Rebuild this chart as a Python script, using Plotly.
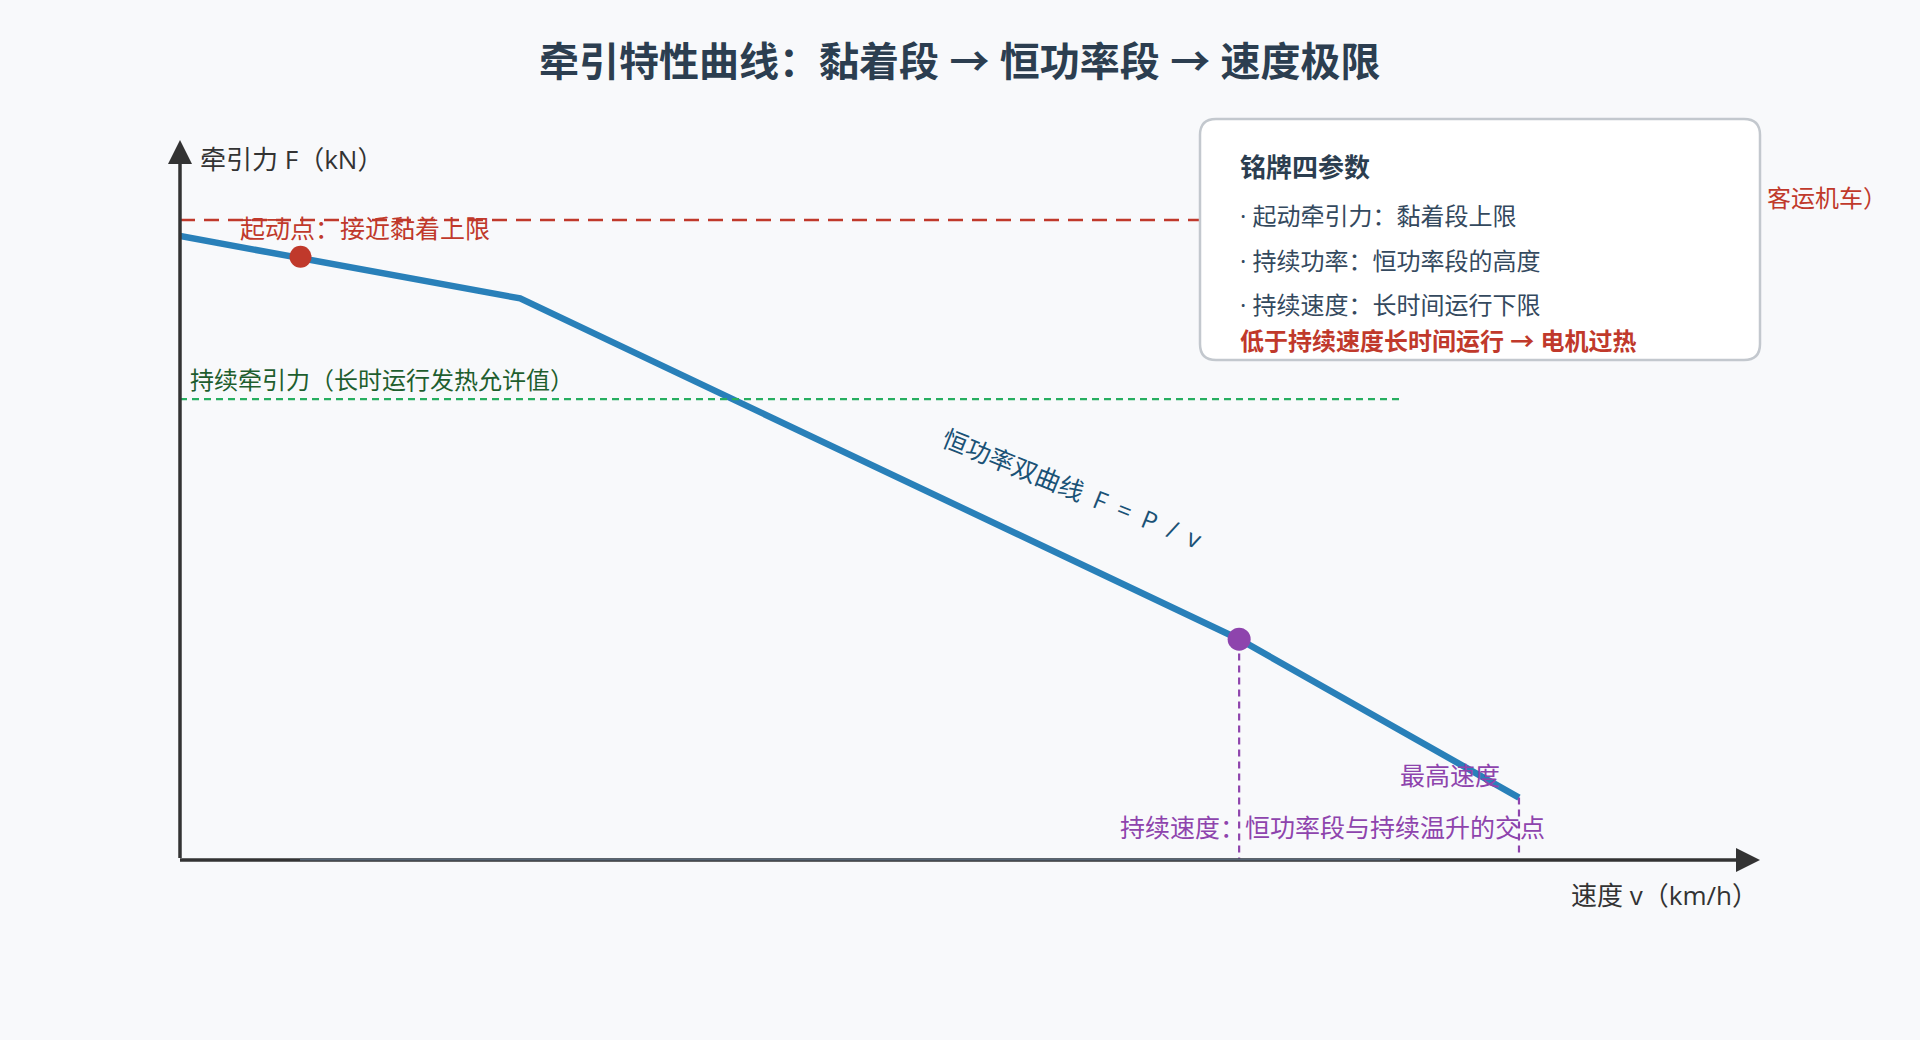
import plotly.graph_objects as go

# ---------------- data ----------------
speed_kmh = [0, 25.4, 79.1, 100]          # curve break points
traction_kN = [390, 351, 138, 39]
start_point_speed = [9]
start_point_force = [377]
continuous_speed = [79.1]
continuous_point_force = [138]
adhesion_limit_kN = 400
continuous_traction_kN = 288
max_speed_kmh = 100
x_range = [0, 118]
y_range = [0, 450]

title_text = "牵引特性曲线：黏着段 → 恒功率段 → 速度极限"
y_label = "牵引力 F（kN）"
x_label = "速度 v（km/h）"
start_label = "起动点：接近黏着上限"
adhesion_label_visible = "客运机车）"
continuous_label = "持续牵引力（长时运行发热允许值）"
hyperbola_label = "恒功率双曲线 F = P / v"
max_speed_label = "最高速度"
continuous_speed_label = "持续速度：恒功率段与持续温升的交点"
box_title = "铭牌四参数"
box_items = ["· 起动牵引力：黏着段上限", "· 持续功率：恒功率段的高度", "· 持续速度：长时间运行下限"]
box_warning = "低于持续速度长时间运行 → 电机过热"

# ---------------- layout geometry ----------------
W, H = 1920, 1040
L, R, T, B = 180, 160, 140, 180
PW, PH = W - L - R, H - T - B
FONT = "Open Sans, Noto Sans CJK SC, sans-serif"
BG = "#f8f9fb"
AXIS = "#333333"
RED = "#c0392b"
GREEN = "#27ae60"
PURPLE = "#8e44ad"
BLUE = "#2980b9"


def px(xp):
    return (xp - L) / PW


def py(yp):
    return (H - B - yp) / PH


fig = go.Figure()

fig.add_trace(go.Scatter(x=speed_kmh, y=traction_kN, mode="lines",
                         line=dict(color=BLUE, width=6.5), hoverinfo="skip", showlegend=False))
fig.add_trace(go.Scatter(x=start_point_speed, y=start_point_force, mode="markers",
                         marker=dict(color=RED, size=22), hoverinfo="skip", showlegend=False))
fig.add_trace(go.Scatter(x=continuous_speed, y=continuous_point_force, mode="markers",
                         marker=dict(color=PURPLE, size=23), hoverinfo="skip", showlegend=False))

shapes = []
# reference lines
shapes.append(dict(type="line", xref="x", yref="y", x0=0, x1=80, y0=adhesion_limit_kN, y1=adhesion_limit_kN,
                   line=dict(color=RED, width=2.5, dash="15px,9px"), layer="above"))
shapes.append(dict(type="line", xref="x", yref="y", x0=0, x1=91.1, y0=continuous_traction_kN,
                   y1=continuous_traction_kN, line=dict(color=GREEN, width=2.2, dash="7px,5px"), layer="above"))
shapes.append(dict(type="line", xref="x", yref="y", x0=continuous_speed[0], x1=continuous_speed[0],
                   y0=continuous_point_force[0] - 9, y1=0, line=dict(color=PURPLE, width=2.2, dash="7px,5px"),
                   layer="above"))
shapes.append(dict(type="line", xref="x", yref="y", x0=max_speed_kmh, x1=max_speed_kmh,
                   y0=traction_kN[-1], y1=4, line=dict(color=PURPLE, width=2.2, dash="7px,5px"),
                   layer="above"))

# info box with rounded corners
bx0, bx1, by0, by1, rr = 1200, 1760, 119, 360, 16
path = (f"M {px(bx0 + rr)} {py(by0)} L {px(bx1 - rr)} {py(by0)} "
        f"Q {px(bx1)} {py(by0)} {px(bx1)} {py(by0 + rr)} L {px(bx1)} {py(by1 - rr)} "
        f"Q {px(bx1)} {py(by1)} {px(bx1 - rr)} {py(by1)} L {px(bx0 + rr)} {py(by1)} "
        f"Q {px(bx0)} {py(by1)} {px(bx0)} {py(by1 - rr)} L {px(bx0)} {py(by0 + rr)} "
        f"Q {px(bx0)} {py(by0)} {px(bx0 + rr)} {py(by0)} Z")
shapes.append(dict(type="path", xref="paper", yref="paper", path=path, fillcolor="white",
                   line=dict(color="#c3c8ce", width=2.5), layer="above"))

# axes with arrows
shapes.append(dict(type="line", xref="paper", yref="paper", x0=px(180), x1=px(180), y0=py(858), y1=py(158),
                   line=dict(color=AXIS, width=3.5), layer="above"))
shapes.append(dict(type="line", xref="paper", yref="paper", x0=px(180), x1=px(1742), y0=py(860), y1=py(860),
                   line=dict(color=AXIS, width=3.5), layer="above"))
shapes.append(dict(type="line", xref="paper", yref="paper", x0=px(300), x1=px(1400), y0=py(859.6), y1=py(859.6),
                   line=dict(color="#566575", width=2), layer="above"))
shapes.append(dict(type="path", xref="paper", yref="paper",
                   path=f"M {px(180)} {py(140)} L {px(168)} {py(164)} L {px(192)} {py(164)} Z",
                   fillcolor=AXIS, line=dict(width=0), layer="above"))
shapes.append(dict(type="path", xref="paper", yref="paper",
                   path=f"M {px(1760)} {py(860)} L {px(1736)} {py(848)} L {px(1736)} {py(872)} Z",
                   fillcolor=AXIS, line=dict(width=0), layer="above"))

annotations = []


def ann(text, xp, yp, size=24, color="#333333", xanchor="left", bold=False, angle=0):
    annotations.append(dict(text=text, xref="paper", yref="paper", x=px(xp), y=py(yp), xanchor=xanchor,
                            yanchor="middle", showarrow=False, textangle=angle,
                            font=dict(family=FONT, size=size, color=color, weight=700 if bold else 400)))


ann(title_text, 960, 61, size=40, color="#2c3e50", xanchor="center", bold=True)
ann(y_label, 198, 159, size=26, color=AXIS)
ann(x_label, 1760, 895, size=26, color=AXIS, xanchor="right")
ann(start_label, 238, 228, size=25, color=RED)
ann(adhesion_label_visible, 1765, 197, color=RED)
ann(continuous_label, 188, 379, color="#1e5e2e")
ann(hyperbola_label.replace(" ", "\u2002"), 1072, 488, size=25, color="#1a5276", xanchor="center", angle=22)
ann(max_speed_label, 1398, 775, size=25, color=PURPLE)
ann(continuous_speed_label, 1118, 827, size=25, color=PURPLE)
ann(box_title, 1238, 167, size=26, color="#2c3e50", bold=True)
for i, item in enumerate(box_items):
    ann(item, 1238, 216 + i * 44, color="#34495e")
ann(box_warning, 1238, 340, color=RED, bold=True)

fig.update_layout(
    width=W, height=H,
    margin=dict(l=L, r=R, t=T, b=B, pad=0),
    paper_bgcolor=BG, plot_bgcolor=BG,
    showlegend=False,
    xaxis=dict(range=x_range, visible=False, fixedrange=True),
    yaxis=dict(range=y_range, visible=False, fixedrange=True),
    shapes=shapes,
    annotations=annotations,
    font=dict(family=FONT),
)

fig.write_html("out.html", config={"displayModeBar": False},
               post_script="document.body.style.margin='0';document.body.style.background='#f8f9fb';")
